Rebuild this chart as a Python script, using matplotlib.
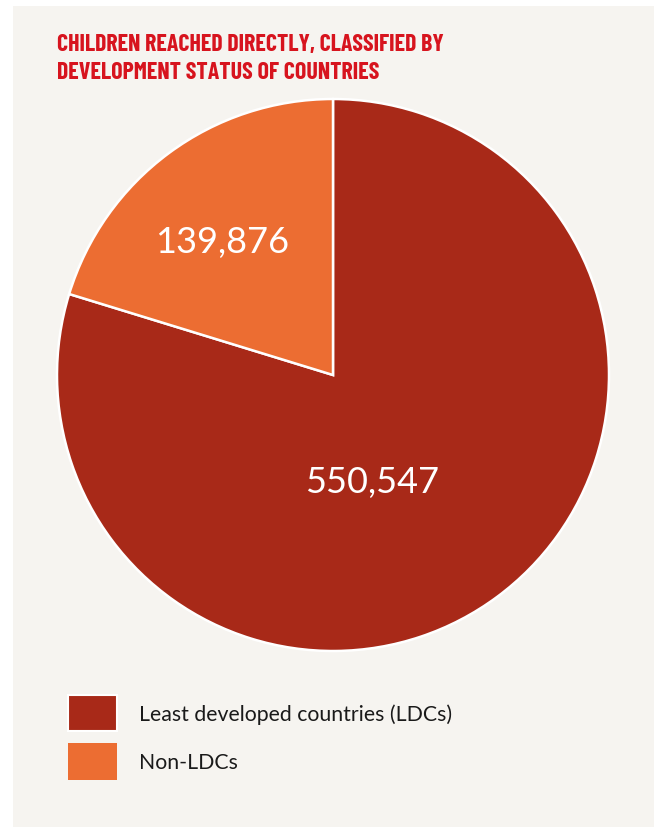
import matplotlib
matplotlib.use("Agg")
import matplotlib.pyplot as plt
from matplotlib.patches import Rectangle, Patch
import numpy as np

categories = ["Least developed countries (LDCs)", "Non-LDCs"]
values = [550547, 139876]
value_labels = ["550,547", "139,876"]
colors = ["#a82918", "#ec6d32"]
title_lines = ["CHILDREN REACHED DIRECTLY, CLASSIFIED BY",
               "DEVELOPMENT STATUS OF COUNTRIES"]

W, H = 660, 828
fig = plt.figure(figsize=(W / 100, H / 100), dpi=100)
fig.patch.set_facecolor("white")

ax = fig.add_axes([0, 0, 1, 1])
ax.set_facecolor("none")
ax.add_patch(Rectangle((13, 0), 654 - 13, H - 7, facecolor="#f6f4f0",
                       edgecolor="none", zorder=0))
cx, cy, R = 333, H - 376, 276
wedges, _ = ax.pie(values, colors=colors, startangle=90, counterclock=False,
                   center=(cx, cy), radius=R,
                   wedgeprops=dict(edgecolor="white", linewidth=1.8, zorder=2))
ax.set_xlim(0, W)
ax.set_ylim(0, H)
ax.set_aspect("auto")
ax.axis("off")

# value labels (position as fraction of radius and angle in degrees)
label_pos = [(0.41, -70.0), (0.63, 129.8)]
for lab, (fr, ang) in zip(value_labels, label_pos):
    a = np.deg2rad(ang)
    ax.text(cx + fr * R * np.cos(a), cy + fr * R * np.sin(a), lab,
            ha="center", va="center", color="white", fontsize=26,
            family=["Lato", "DejaVu Sans"], zorder=3)

# title, sized so the first line spans the reference width
renderer = fig.canvas.get_renderer()
t_fam = ["Barlow Condensed", "Roboto Condensed", "DejaVu Sans"]
t1 = fig.text(57 / W, 1 - 51 / H, title_lines[0], ha="left", va="baseline",
              color="#d7141e", fontsize=18, fontweight="bold", family=t_fam)
bb = t1.get_window_extent(renderer)
fsz = 18 * 389 / bb.width
t1.set_fontsize(fsz)
fig.text(57 / W, 1 - 79 / H, title_lines[1], ha="left", va="baseline",
         color="#d7141e", fontsize=fsz, fontweight="bold", family=t_fam)

handles = [Patch(facecolor=colors[0], edgecolor="white", linewidth=1.5),
           Patch(facecolor=colors[1], edgecolor="none")]
fs = 15.3
fspx = fs * 100 / 72
fig.legend(handles, categories, loc="upper left",
           bbox_to_anchor=(68 / W, 1 - 696 / H), frameon=False,
           prop=dict(family=["Lato", "DejaVu Sans"], size=fs),
           handlelength=49 / fspx, handleheight=(36 / 27) * 36 / fspx,
           labelspacing=12 / fspx, handletextpad=22 / fspx, borderpad=0,
           borderaxespad=0, labelcolor="#1a1a1a")

fig.savefig("out.png", dpi=100, facecolor="white")
